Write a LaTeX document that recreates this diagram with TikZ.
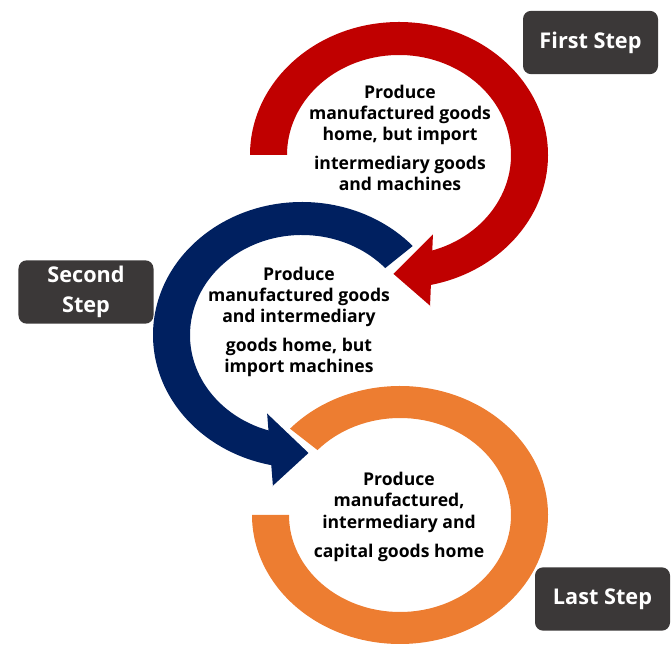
\documentclass[tikz,border=0pt]{standalone}
\usepackage{fontspec}
\setmainfont{Open Sans}
\usetikzlibrary{calc}
\definecolor{cred}{HTML}{C00000}
\definecolor{cblue}{HTML}{002060}
\definecolor{corange}{HTML}{ED7D31}
\definecolor{cbox}{HTML}{3B3838}
\tikzset{
  stepbox/.style={fill=cbox, rounded corners=7pt, text=white, align=center, minimum width=4.05cm, minimum height=1.9cm, inner sep=2pt, font=\bfseries\fontsize{18.5pt}{25pt}\selectfont},
  steptext/.style={align=center, inner sep=0pt, font=\bfseries\fontsize{15pt}{18pt}\selectfont},
  headedge/.style={draw=white, line width=1.5pt, line join=miter},
}

\begin{document}
\begin{tikzpicture}[x=0.03cm, y=0.03cm]
  \useasboundingbox (0,0) rectangle (671,646);
  \coordinate (redc) at (399,491);
  \coordinate (bluec) at (302,311);
  \coordinate (orangec) at (400,131);
  % last step ring
  \begin{scope}[shift={(orangec)}]
    \fill[corange] (138:148 and 129) arc[start angle=138, end angle=-180, x radius=148, y radius=129]
      -- (-180:111 and 97) arc[start angle=-180, end angle=138, x radius=111, y radius=97] -- cycle;
  \end{scope}
  % second step ring
  \begin{scope}[shift={(bluec)}]
    \fill[cblue] (42:149 and 133) arc[start angle=42, end angle=262, x radius=149, y radius=133]
      -- (262:112 and 100) arc[start angle=262, end angle=42, x radius=112, y radius=100] -- cycle;
  \end{scope}
  \fill[cblue] (267,234) -- (273,159) -- (310,193) -- cycle;
  \draw[headedge] (267,234) -- (310,193) -- (273,159);
  % first step ring
  \begin{scope}[shift={(redc)}]
    \fill[cred] (180:149 and 133) arc[start angle=180, end angle=-80, x radius=149, y radius=133]
      -- (-80:112 and 100) arc[start angle=-80, end angle=180, x radius=112, y radius=100] -- cycle;
  \end{scope}
  \fill[cred] (433,413) -- (430,339) -- (392,372) -- cycle;
  \draw[headedge] (433,413) -- (392,372) -- (430,339);

  \node[steptext] (redtext) at (400,508) {Produce\\manufactured goods\\home, but import\\[7pt]intermediary goods\\and machines};
  \node[steptext] (bluetext) at (299,324) {Produce\\manufactured goods\\and intermediary\\[7pt]goods home, but\\import machines};
  \node[steptext] (orangetext) at (399,129) {Produce\\manufactured,\\intermediary and\\[7pt]capital goods home};

  \node[stepbox] (first) at (590.5,603.5) {First Step};
  \node[stepbox] (second) at (86,354) {Second\\Step};
  \node[stepbox] (last) at (602.5,47) {Last Step};
\end{tikzpicture}
\end{document}
